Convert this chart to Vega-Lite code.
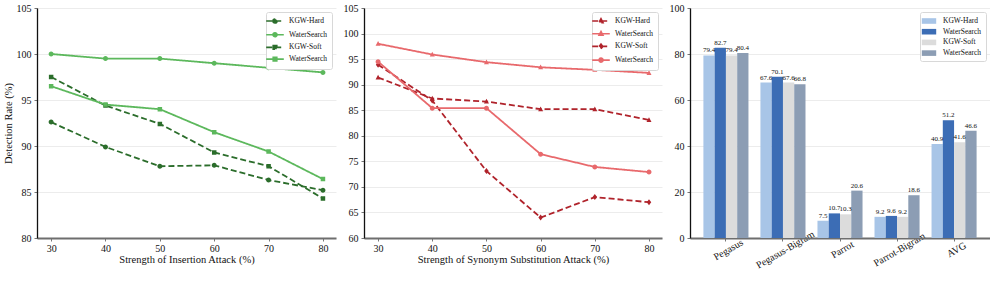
{
  "$schema": "https://vega.github.io/schema/vega-lite/v6.json",
  "padding": {"left": 3, "top": 3, "right": 0, "bottom": 0},
  "background": "white",
  "config": {
    "font": "Liberation Serif",
    "view": {"stroke": null},
    "axis": {
      "labelFont": "Liberation Serif", "titleFont": "Liberation Serif",
      "labelFontSize": 10, "titleFontSize": 10.5, "titleFontWeight": "normal",
      "labelColor": "#111", "titleColor": "#111",
      "tickColor": "#777", "tickSize": 3, "gridColor": "#ececec", "gridWidth": 1
    },
    "axisX": {"domainColor": "#6e6e6e", "domainWidth": 2, "grid": false, "labelPadding": 2, "titlePadding": 1},
    "axisY": {"domainColor": "#111", "domainWidth": 1.3, "labelPadding": 3, "titlePadding": 3},
    "legend": {
      "labelFont": "Liberation Serif", "labelFontSize": 7.5, "labelColor": "#111",
      "strokeColor": "#d8d8d8", "fillColor": "white", "cornerRadius": 2,
      "padding": 4, "rowPadding": 1.7, "offset": 4
    }
  },
  "datasets": {
    "insertion": [
      {"x": 30, "series": "KGW-Hard", "value": 92.6},
      {"x": 40, "series": "KGW-Hard", "value": 89.9},
      {"x": 50, "series": "KGW-Hard", "value": 87.8},
      {"x": 60, "series": "KGW-Hard", "value": 87.9},
      {"x": 70, "series": "KGW-Hard", "value": 86.3},
      {"x": 80, "series": "KGW-Hard", "value": 85.2},
      {"x": 30, "series": "WaterSearch-Hard", "value": 100.0},
      {"x": 40, "series": "WaterSearch-Hard", "value": 99.5},
      {"x": 50, "series": "WaterSearch-Hard", "value": 99.5},
      {"x": 60, "series": "WaterSearch-Hard", "value": 99.0},
      {"x": 70, "series": "WaterSearch-Hard", "value": 98.5},
      {"x": 80, "series": "WaterSearch-Hard", "value": 98.0},
      {"x": 30, "series": "KGW-Soft", "value": 97.5},
      {"x": 40, "series": "KGW-Soft", "value": 94.4},
      {"x": 50, "series": "KGW-Soft", "value": 92.4},
      {"x": 60, "series": "KGW-Soft", "value": 89.3},
      {"x": 70, "series": "KGW-Soft", "value": 87.8},
      {"x": 80, "series": "KGW-Soft", "value": 84.3},
      {"x": 30, "series": "WaterSearch-Soft", "value": 96.5},
      {"x": 40, "series": "WaterSearch-Soft", "value": 94.5},
      {"x": 50, "series": "WaterSearch-Soft", "value": 94.0},
      {"x": 60, "series": "WaterSearch-Soft", "value": 91.5},
      {"x": 70, "series": "WaterSearch-Soft", "value": 89.4},
      {"x": 80, "series": "WaterSearch-Soft", "value": 86.4}
    ],
    "synonym": [
      {"x": 30, "series": "KGW-Hard", "value": 91.4},
      {"x": 40, "series": "KGW-Hard", "value": 87.3},
      {"x": 50, "series": "KGW-Hard", "value": 86.7},
      {"x": 60, "series": "KGW-Hard", "value": 85.2},
      {"x": 70, "series": "KGW-Hard", "value": 85.2},
      {"x": 80, "series": "KGW-Hard", "value": 83.1},
      {"x": 30, "series": "WaterSearch-Hard", "value": 98.0},
      {"x": 40, "series": "WaterSearch-Hard", "value": 95.9},
      {"x": 50, "series": "WaterSearch-Hard", "value": 94.4},
      {"x": 60, "series": "WaterSearch-Hard", "value": 93.4},
      {"x": 70, "series": "WaterSearch-Hard", "value": 92.9},
      {"x": 80, "series": "WaterSearch-Hard", "value": 92.3},
      {"x": 30, "series": "KGW-Soft", "value": 93.9},
      {"x": 40, "series": "KGW-Soft", "value": 86.9},
      {"x": 50, "series": "KGW-Soft", "value": 73.1},
      {"x": 60, "series": "KGW-Soft", "value": 64.0},
      {"x": 70, "series": "KGW-Soft", "value": 68.0},
      {"x": 80, "series": "KGW-Soft", "value": 67.0},
      {"x": 30, "series": "WaterSearch-Soft", "value": 94.5},
      {"x": 40, "series": "WaterSearch-Soft", "value": 85.4},
      {"x": 50, "series": "WaterSearch-Soft", "value": 85.4},
      {"x": 60, "series": "WaterSearch-Soft", "value": 76.4},
      {"x": 70, "series": "WaterSearch-Soft", "value": 73.9},
      {"x": 80, "series": "WaterSearch-Soft", "value": 72.9}
    ],
    "bars": [
      {"dataset": "Pegasus", "series": "KGW-Hard", "value": 79.4},
      {"dataset": "Pegasus", "series": "WaterSearch-Hard", "value": 82.7},
      {"dataset": "Pegasus", "series": "KGW-Soft", "value": 79.4},
      {"dataset": "Pegasus", "series": "WaterSearch-Soft", "value": 80.4},
      {"dataset": "Pegasus-Bigram", "series": "KGW-Hard", "value": 67.6},
      {"dataset": "Pegasus-Bigram", "series": "WaterSearch-Hard", "value": 70.1},
      {"dataset": "Pegasus-Bigram", "series": "KGW-Soft", "value": 67.6},
      {"dataset": "Pegasus-Bigram", "series": "WaterSearch-Soft", "value": 66.8},
      {"dataset": "Parrot", "series": "KGW-Hard", "value": 7.5},
      {"dataset": "Parrot", "series": "WaterSearch-Hard", "value": 10.7},
      {"dataset": "Parrot", "series": "KGW-Soft", "value": 10.3},
      {"dataset": "Parrot", "series": "WaterSearch-Soft", "value": 20.6},
      {"dataset": "Parrot-Bigram", "series": "KGW-Hard", "value": 9.2},
      {"dataset": "Parrot-Bigram", "series": "WaterSearch-Hard", "value": 9.6},
      {"dataset": "Parrot-Bigram", "series": "KGW-Soft", "value": 9.2},
      {"dataset": "Parrot-Bigram", "series": "WaterSearch-Soft", "value": 18.6},
      {"dataset": "AVG", "series": "KGW-Hard", "value": 40.9},
      {"dataset": "AVG", "series": "WaterSearch-Hard", "value": 51.2},
      {"dataset": "AVG", "series": "KGW-Soft", "value": 41.6},
      {"dataset": "AVG", "series": "WaterSearch-Soft", "value": 46.6}
    ]
  },
  "spacing": 7,
  "resolve": {
    "scale": {"x": "independent", "y": "independent", "color": "independent", "shape": "independent", "strokeDash": "independent"},
    "legend": {"color": "independent", "shape": "independent", "strokeDash": "independent"}
  },
  "hconcat": [
    {
      "width": 299, "height": 230,
      "data": {"name": "insertion"},
      "encoding": {
        "x": {"field": "x", "type": "quantitative", "scale": {"domain": [27.4, 82.4], "nice": false, "zero": false},
              "axis": {"values": [30, 40, 50, 60, 70, 80], "title": "Strength of Insertion Attack (%)"}},
        "y": {"field": "value", "type": "quantitative", "scale": {"domain": [80, 105], "nice": false, "zero": false},
              "axis": {"values": [80, 85, 90, 95, 100, 105], "title": "Detection Rate (%)", "grid": true}},
        "color": {"field": "series", "type": "nominal",
                  "scale": {"domain": ["KGW-Hard", "WaterSearch-Hard", "KGW-Soft", "WaterSearch-Soft"], "range": ["#2b6d2b", "#5cb85c", "#2b6d2b", "#5cb85c"]},
                  "legend": {"title": null, "orient": "top-right", "labelExpr": "indexof(datum.label,'WaterSearch')>=0 ? 'WaterSearch' : datum.label", "symbolStrokeWidth": 1.6, "labelOffset": 9, "symbolSize": 64}},
        "strokeDash": {"field": "series", "type": "nominal",
                       "scale": {"domain": ["KGW-Hard", "WaterSearch-Hard", "KGW-Soft", "WaterSearch-Soft"], "range": [[6, 3], [1, 0], [6, 3], [1, 0]]},
                       "legend": {"title": null}}
      },
      "layer": [
        {"mark": {"type": "line", "strokeWidth": 1.8}},
        {"mark": {"type": "point", "filled": true, "opacity": 1, "size": 100, "strokeWidth": 0},
         "encoding": {
           "shape": {"field": "series", "type": "nominal",
                     "scale": {"domain": ["KGW-Hard", "WaterSearch-Hard", "KGW-Soft", "WaterSearch-Soft"],
                               "range": ["M-2.2,0H2.2M-0.5,0A0.5,0.5,0,1,0,0.5,0A0.5,0.5,0,1,0,-0.5,0Z", "M-2.2,0H2.2M-0.5,0A0.5,0.5,0,1,0,0.5,0A0.5,0.5,0,1,0,-0.5,0Z", "M-2.2,0H2.2M-0.45,-0.45H0.45V0.45H-0.45Z", "M-2.2,0H2.2M-0.45,-0.45H0.45V0.45H-0.45Z"]},
                     "legend": {"title": null}}
         }}
      ]
    },
    {
      "width": 298, "height": 230,
      "data": {"name": "synonym"},
      "encoding": {
        "x": {"field": "x", "type": "quantitative", "scale": {"domain": [27.4, 82.4], "nice": false, "zero": false},
              "axis": {"values": [30, 40, 50, 60, 70, 80], "title": "Strength of Synonym Substitution Attack (%)"}},
        "y": {"field": "value", "type": "quantitative", "scale": {"domain": [60, 105], "nice": false, "zero": false},
              "axis": {"values": [60, 65, 70, 75, 80, 85, 90, 95, 100, 105], "title": null, "grid": true}},
        "color": {"field": "series", "type": "nominal",
                  "scale": {"domain": ["KGW-Hard", "WaterSearch-Hard", "KGW-Soft", "WaterSearch-Soft"], "range": ["#b0232b", "#e8696c", "#b0232b", "#e8696c"]},
                  "legend": {"title": null, "orient": "top-right", "labelExpr": "indexof(datum.label,'WaterSearch')>=0 ? 'WaterSearch' : datum.label", "symbolStrokeWidth": 1.6, "labelOffset": 9, "symbolSize": 64}},
        "strokeDash": {"field": "series", "type": "nominal",
                       "scale": {"domain": ["KGW-Hard", "WaterSearch-Hard", "KGW-Soft", "WaterSearch-Soft"], "range": [[6, 3], [1, 0], [6, 3], [1, 0]]},
                       "legend": {"title": null}}
      },
      "layer": [
        {"mark": {"type": "line", "strokeWidth": 1.8}},
        {"mark": {"type": "point", "filled": true, "opacity": 1, "size": 100, "strokeWidth": 0},
         "encoding": {
           "shape": {"field": "series", "type": "nominal",
                     "scale": {"domain": ["KGW-Hard", "WaterSearch-Hard", "KGW-Soft", "WaterSearch-Soft"],
                               "range": ["M-2.2,0H2.2M0,-0.55L0.5,0.4H-0.5Z", "M-2.2,0H2.2M0,-0.55L0.5,0.4H-0.5Z", "M-2.2,0H2.2M0,-0.6L0.45,0L0,0.6L-0.45,0Z", "M-2.2,0H2.2M-0.5,0A0.5,0.5,0,1,0,0.5,0A0.5,0.5,0,1,0,-0.5,0Z"]},
                     "legend": {"title": null}}
         }}
      ]
    },
    {
      "width": 300, "height": 230,
      "data": {"name": "bars"},
      "encoding": {
        "x": {"field": "dataset", "type": "nominal", "sort": ["Pegasus", "Pegasus-Bigram", "Parrot", "Parrot-Bigram", "AVG"],
              "scale": {"paddingInner": 0.21, "paddingOuter": 0.235},
              "axis": {"title": null, "labelAngle": -30, "labelAlign": "center", "labelBaseline": "top", "labelPadding": 4}},
        "xOffset": {"field": "series", "type": "nominal", "sort": ["KGW-Hard", "WaterSearch-Hard", "KGW-Soft", "WaterSearch-Soft"],
                    "scale": {"paddingInner": 0, "paddingOuter": 0}},
        "y": {"field": "value", "type": "quantitative", "scale": {"domain": [0, 100], "nice": false},
              "axis": {"values": [0, 20, 40, 60, 80, 100], "title": null, "grid": true}}
      },
      "layer": [
        {"mark": {"type": "bar"},
         "encoding": {
           "color": {"field": "series", "type": "nominal",
                     "scale": {"domain": ["KGW-Hard", "WaterSearch-Hard", "KGW-Soft", "WaterSearch-Soft"], "range": ["#a8c5e7", "#3c6db5", "#dcdcdc", "#8c9db4"]},
                     "legend": {"title": null, "orient": "top-right", "labelExpr": "indexof(datum.label,'WaterSearch')>=0 ? 'WaterSearch' : datum.label",
                                "symbolType": "M-1.8,-0.7H1.8V0.7H-1.8Z", "symbolSize": 64, "labelOffset": 9, "symbolOpacity": 1}}
         }},
        {"mark": {"type": "text", "baseline": "bottom", "dy": -2, "fontSize": 7, "color": "#111"},
         "encoding": {"text": {"field": "value", "type": "quantitative", "format": ".1f"}}}
      ]
    }
  ]
}
